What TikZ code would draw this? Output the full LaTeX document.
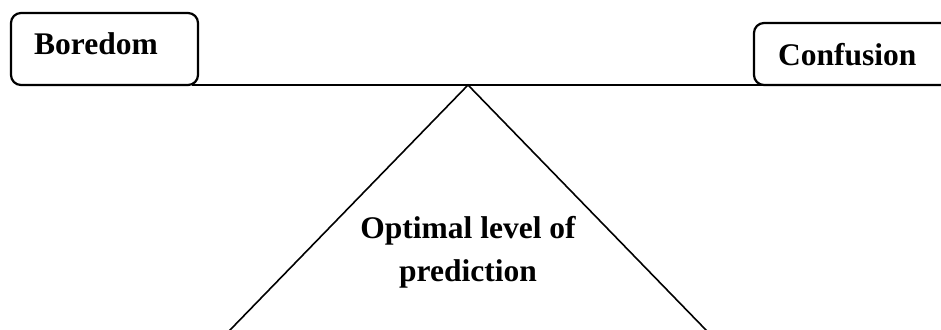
\documentclass[tikz,border=0pt]{standalone}
\usepackage{fontspec}
\setmainfont{Liberation Serif}
\usetikzlibrary{calc}

\begin{document}
\begin{tikzpicture}[x=1pt,y=-1pt,
  font=\bfseries\fontsize{31.5}{43}\selectfont,
  box/.style={draw,line width=2.2pt,rounded corners=10pt,anchor=north west,inner sep=0pt,outer sep=0pt},
  word/.style={inner sep=0pt,anchor=base west}]
 \useasboundingbox (0,0) rectangle (941,329);\clip (0,0) rectangle (941,329);
 \node[box,minimum width=187pt,minimum height=72pt] (boredom) at (11,13) {};
 \node[word] (boredomtext) at (34,55) {Boredom};
 \node[box,minimum width=220pt,minimum height=62pt] (confusion) at (754,23) {};
 \node[word] (confusiontext) at (778,65) {Confusion};
 \coordinate (pivot) at (468,85);\coordinate (beamend) at (798,85);
 \draw[line width=2.4pt] (boredom.south east)++(-6,0)--(beamend);
 \coordinate (leftfoot) at ($(pivot)!1.03!(231,329)$);\coordinate (rightfoot) at ($(pivot)!1.03!(705,329)$);
 \draw[line width=1.6pt,line join=miter] (leftfoot)--(pivot)--(rightfoot);
 \node[align=center,inner sep=0pt] (optimal) at (468,252) {Optimal level of\\prediction};
\end{tikzpicture}
\end{document}
